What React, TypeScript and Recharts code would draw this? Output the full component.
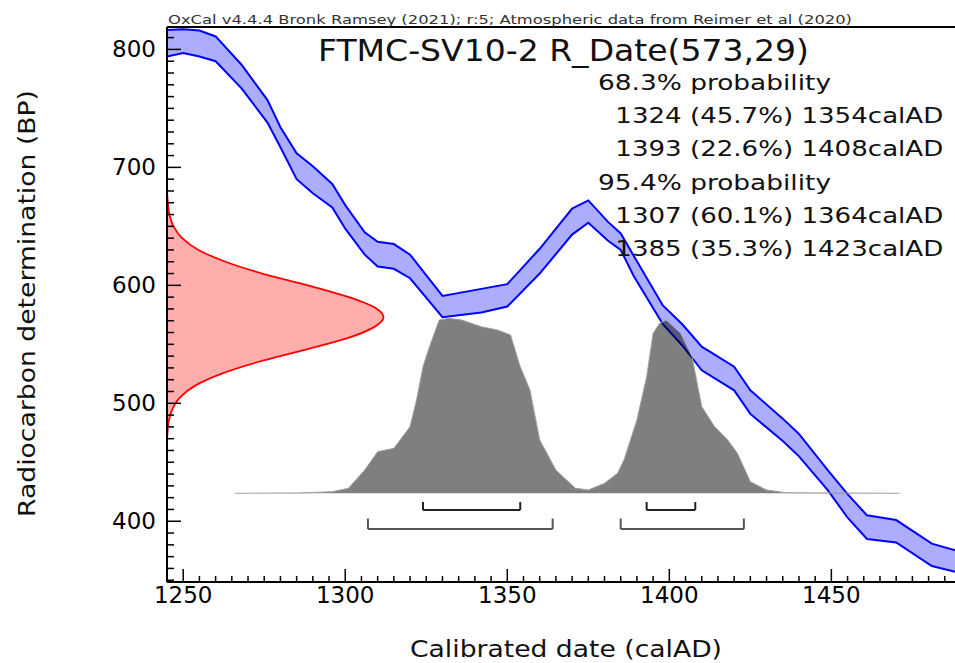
import React from 'react';
import { ComposedChart, Area, XAxis, YAxis, ReferenceLine } from 'recharts';

// Calibration curve (IntCal20), 1-sigma envelope
const CURVE_YEARS = [1240, 1250, 1255, 1260, 1268, 1276, 1280, 1285, 1290, 1296, 1300, 1306, 1310, 1315, 1320, 1330, 1342, 1350, 1360, 1370, 1375, 1381, 1385, 1389, 1398, 1404, 1410, 1420, 1425, 1435, 1440, 1449, 1455, 1461, 1470, 1481, 1490];
const CURVE_HIGH = [816, 817, 816, 811, 787, 757, 734, 712, 701, 686, 668, 645, 637, 635, 626, 591, 597, 601, 631, 665, 672, 654, 644, 625, 583, 567, 548, 531, 511, 487, 474, 443, 423, 405, 401, 381, 374];
const CURVE_LOW = [791, 797, 794, 790, 767, 738, 717, 690, 678, 666, 648, 626, 616, 614, 606, 573, 577, 582, 610, 643, 653, 638, 630, 608, 567, 549, 528, 511, 491, 468, 455, 426, 403, 385, 382, 362, 356];

// Calibrated probability distribution (relative)
const DIST_YEARS = [1266, 1286, 1296, 1301, 1306, 1310, 1315, 1320, 1322, 1324, 1326, 1329, 1332, 1336, 1342, 1347, 1351, 1354, 1357, 1360, 1365, 1371, 1375, 1380, 1384, 1386, 1390, 1393, 1395, 1397, 1399, 1403.5, 1407, 1410, 1414, 1418, 1421, 1425, 1430, 1436, 1471];
const DIST_PROB = [0, 0.002, 0.009, 0.029, 0.133, 0.238, 0.257, 0.381, 0.533, 0.723, 0.838, 0.99, 1.0, 0.99, 0.952, 0.933, 0.905, 0.723, 0.59, 0.305, 0.133, 0.029, 0.019, 0.057, 0.114, 0.19, 0.419, 0.666, 0.914, 0.971, 0.99, 0.914, 0.78, 0.495, 0.38, 0.305, 0.229, 0.066, 0.019, 0.003, 0];

// Radiocarbon measurement 573 +/- 29 BP (relative density)
const RDATE_BP = [681, 670, 660, 650, 640, 630, 620, 610, 600, 590, 580, 573, 565, 555, 545, 535, 525, 515, 505, 495, 485, 475, 465];
const RDATE_DENS = [0, 0.004, 0.011, 0.03, 0.07, 0.145, 0.27, 0.44, 0.65, 0.84, 0.97, 1.0, 0.96, 0.83, 0.63, 0.42, 0.25, 0.13, 0.06, 0.025, 0.008, 0.002, 0];

// Calibrated ranges
const RANGE68_FROM = [1324, 1393];
const RANGE68_TO = [1354, 1408];
const RANGE68_PCT = ['45.7', '22.6'];
const RANGE95_FROM = [1307, 1385];
const RANGE95_TO = [1364, 1423];
const RANGE95_PCT = ['60.1', '35.3'];

const X_MAJOR = [1250, 1300, 1350, 1400, 1450];
const Y_MAJOR = [400, 500, 600, 700, 800];
const X_TICKS = Array.from({ length: 48 }, (_, i) => 1250 + i * 5);
const Y_TICKS = Array.from({ length: 47 }, (_, i) => 350 + i * 10);

const X_DOMAIN: [number, number] = [1245, 1490];
const Y_DOMAIN: [number, number] = [348.5, 819];
const P_DOMAIN: [number, number] = [-0.507, 2.665];

const FONT = '"DejaVu Sans", Verdana, sans-serif';
const W = 961;
const H = 663;
const MARGIN = { top: 27, right: 0, bottom: 0, left: 0 };

const XTick = (props: any) => {
  const { x, y, payload } = props;
  const major = X_MAJOR.includes(payload.value);
  return (
    <g>
      <line x1={x} y1={y} x2={x} y2={y - (major ? 13 : 6)} stroke="#000" strokeWidth={1.5} />
      {major && (
        <text x={x} y={y + 21} textAnchor="middle" fontSize={23} fontFamily={FONT} fill="#000">
          {payload.value}
        </text>
      )}
    </g>
  );
};

const YTick = (props: any) => {
  const { x, y, payload } = props;
  const major = Y_MAJOR.includes(payload.value);
  return (
    <g>
      <line x1={x} y1={y} x2={x + (major ? 14 : 7)} y2={y} stroke="#000" strokeWidth={1.5} />
      {major && (
        <text x={x - 11} y={y + 8} textAnchor="end" fontSize={23} fontFamily={FONT} fill="#000">
          {payload.value}
        </text>
      )}
    </g>
  );
};

// bracket levels on the probability axis (below the distribution baseline)
const bracket = (from: number, to: number, top: number, bottom: number, color: string, key: string) => [
  <ReferenceLine key={key + 'l'} yAxisId="p" segment={[{ x: from, y: top }, { x: from, y: bottom }]} stroke={color} strokeWidth={2} ifOverflow="visible" />,
  <ReferenceLine key={key + 'm'} yAxisId="p" segment={[{ x: from, y: bottom }, { x: to, y: bottom }]} stroke={color} strokeWidth={2} ifOverflow="visible" />,
  <ReferenceLine key={key + 'r'} yAxisId="p" segment={[{ x: to, y: top }, { x: to, y: bottom }]} stroke={color} strokeWidth={2} ifOverflow="visible" />,
];

export default function App() {
  const bandData = CURVE_YEARS.map((year, i) => ({ year, low: CURVE_LOW[i], high: CURVE_HIGH[i] }));
  const distData = DIST_YEARS.map((year, i) => ({ year, prob: DIST_PROB[i] }));
  const rDateData = RDATE_BP.map((bp, i) => ({ bp, dens: RDATE_DENS[i] }));

  const rangeLines68 = RANGE68_FROM.map((f, i) => `${f} (${RANGE68_PCT[i]}%) ${RANGE68_TO[i]}calAD`);
  const rangeLines95 = RANGE95_FROM.map((f, i) => `${f} (${RANGE95_PCT[i]}%) ${RANGE95_TO[i]}calAD`);

  return (
    <div style={{ position: 'absolute', left: 0, top: 0, width: 955, height: 663, overflow: 'hidden', background: '#fff' }}>
      {/* measurement distribution on the radiocarbon axis */}
      <div style={{ position: 'absolute', left: 0, top: 0 }}>
        <ComposedChart layout="vertical" width={W} height={H} data={rDateData} margin={{ top: 27, right: 0, bottom: 81, left: 167 }}>
          <XAxis type="number" domain={[0, 3.667]} allowDataOverflow hide />
          <YAxis type="number" dataKey="bp" domain={Y_DOMAIN} allowDataOverflow reversed hide />
          <Area type="monotone" dataKey="dens" stroke="#ff0000" strokeWidth={1.8} fill="#ff0000" fillOpacity={0.32} dot={false} activeDot={false} isAnimationActive={false} />
        </ComposedChart>
      </div>

      <div style={{ position: 'absolute', left: 0, top: 0 }}>
        <ComposedChart width={W} height={H} margin={MARGIN}>
          <XAxis
            dataKey="year"
            type="number"
            domain={X_DOMAIN}
            allowDataOverflow
            ticks={X_TICKS}
            interval={0}
            tick={(p: any) => <XTick {...p} />}
            tickSize={0}
            tickMargin={0}
            tickLine={false}
            height={81}
            axisLine={{ stroke: '#000', strokeWidth: 2 }}
          />
          <YAxis
            yAxisId="bp"
            type="number"
            domain={Y_DOMAIN}
            allowDataOverflow
            ticks={Y_TICKS}
            interval={0}
            tick={(p: any) => <YTick {...p} />}
            tickSize={0}
            tickMargin={0}
            tickLine={false}
            width={167}
            axisLine={{ stroke: '#000', strokeWidth: 2 }}
          />
          <YAxis yAxisId="p" type="number" domain={P_DOMAIN} allowDataOverflow hide />
          <ReferenceLine yAxisId="bp" y={Y_DOMAIN[1]} stroke="#000" strokeWidth={2} />
          <Area
            yAxisId="bp"
            data={bandData}
            type="linear"
            dataKey={(d: any) => [d.low, d.high]}
            stroke="#0000ff"
            strokeWidth={2}
            fill="#0000ff"
            fillOpacity={0.32}
            dot={false}
            activeDot={false}
            isAnimationActive={false}
          />
          <Area
            yAxisId="p"
            data={distData}
            type="linear"
            dataKey="prob"
            baseValue={0}
            stroke="#a0a0a0"
            strokeWidth={1}
            fill="#000"
            fillOpacity={0.5}
            dot={false}
            activeDot={false}
            isAnimationActive={false}
          />
          {RANGE68_FROM.map((f, i) => bracket(f, RANGE68_TO[i], -0.05, -0.0955, '#222', 'a' + i))}
          {RANGE95_FROM.map((f, i) => bracket(f, RANGE95_TO[i], -0.144, -0.204, '#555', 'b' + i))}
        </ComposedChart>
      </div>

      <svg width={955} height={663} style={{ position: 'absolute', left: 0, top: 0, pointerEvents: 'none' }} fontFamily={FONT}>
        <text x={168} y={23.5} fontSize={13} fill="#333" textLength={684} lengthAdjust="spacingAndGlyphs">
          OxCal v4.4.4 Bronk Ramsey (2021); r:5; Atmospheric data from Reimer et al (2020)
        </text>
        <text x={318} y={61} fontSize={30} fill="#111" textLength={491} lengthAdjust="spacingAndGlyphs">
          FTMC-SV10-2 R_Date(573,29)
        </text>
        <text x={598} y={89.5} fontSize={22} fill="#111" textLength={233} lengthAdjust="spacingAndGlyphs">68.3% probability</text>
        {rangeLines68.map((s, i) => (
          <text key={s} x={615.3} y={123 + i * 33.2} fontSize={22} fill="#111" textLength={328} lengthAdjust="spacingAndGlyphs">{s}</text>
        ))}
        <text x={598} y={189.5} fontSize={22} fill="#111" textLength={233} lengthAdjust="spacingAndGlyphs">95.4% probability</text>
        {rangeLines95.map((s, i) => (
          <text key={s} x={615.3} y={223 + i * 33.2} fontSize={22} fill="#111" textLength={328} lengthAdjust="spacingAndGlyphs">{s}</text>
        ))}
        <text x={410} y={657} fontSize={23.5} fill="#111" textLength={312} lengthAdjust="spacingAndGlyphs">Calibrated date (calAD)</text>
        <text x={35} y={303.5} transform="rotate(-90 35 303.5)" fontSize={23.5} fill="#111" textAnchor="middle" textLength={427} lengthAdjust="spacingAndGlyphs">
          Radiocarbon determination (BP)
        </text>
      </svg>
    </div>
  );
}
